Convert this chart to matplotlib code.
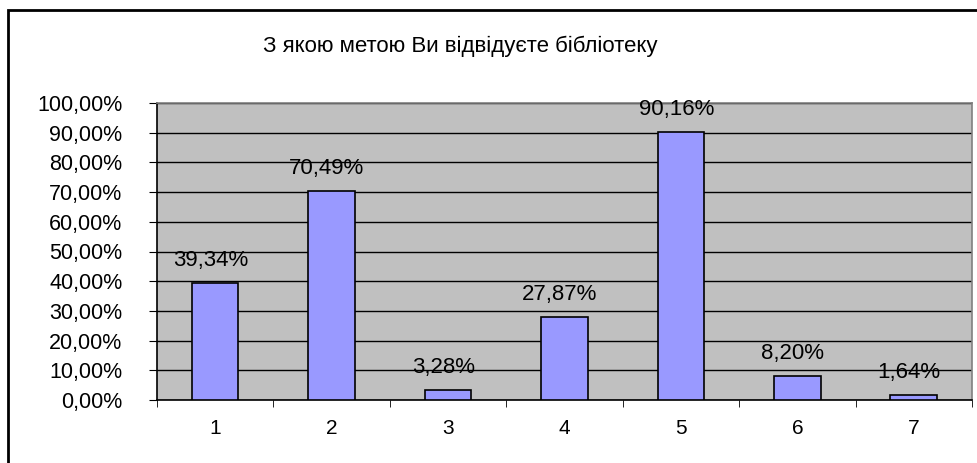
import matplotlib.pyplot as plt
from matplotlib.patches import Rectangle

categories = ['1', '2', '3', '4', '5', '6', '7']
values = [39.34, 70.49, 3.28, 27.87, 90.16, 8.20, 1.64]
title = 'З якою метою Ви відвідуєте бібліотеку'
yticks = list(range(0, 101, 10))

plt.rcParams['font.family'] = ['Liberation Sans', 'DejaVu Sans']

fig = plt.figure(figsize=(9.78, 4.63), dpi=100)
ax = fig.add_axes([157 / 978, 1 - 400 / 463, 815 / 978, 297 / 463])
ax.set_facecolor('#c0c0c0')

x = list(range(len(categories)))
ax.bar(x, values, width=0.4, color='#9999ff', edgecolor='black', linewidth=1.2, zorder=3)
for xi, v in zip(x, values):
    lbl = ('%.2f%%' % v).replace('.', ',')
    ax.text(xi - 0.04, v + 5.7, lbl, ha='center', va='baseline', fontsize=16, zorder=4)

ax.set_xlim(-0.5, len(categories) - 0.5)
ax.set_ylim(0, 100)
ax.set_yticks(yticks)
ax.set_yticklabels([('%.2f%%' % t).replace('.', ',') for t in yticks], fontsize=15.5)
ax.yaxis.grid(True, color='black', linewidth=1, zorder=1)
ax.set_axisbelow(True)

ax.set_xticks(x)
ax.set_xticklabels(categories, fontsize=15)
ax.tick_params(axis='x', length=0, pad=14)
ax.set_xticks([i - 0.5 for i in range(len(categories) + 1)], minor=True)
ax.tick_params(axis='x', which='minor', length=5, direction='out', color='black')
ax.tick_params(axis='y', length=6, direction='out', color='black', pad=19)

ax.spines['top'].set_color('#808080')
ax.spines['right'].set_color('#808080')
ax.spines['left'].set_color('black')
ax.spines['bottom'].set_color('black')
for s in ax.spines.values():
    s.set_linewidth(1.2)

fig.text(460 / 978, 1 - 52 / 463, title, ha='center', va='baseline', fontsize=16)

# chart frame (cropped at right and bottom)
fig.patches.append(Rectangle((8 / 978, -0.1), 1.2, 1 - 10 / 463 + 0.1,
                             transform=fig.transFigure, fill=False,
                             edgecolor='black', linewidth=2))

fig.savefig('out.png', dpi=100)
